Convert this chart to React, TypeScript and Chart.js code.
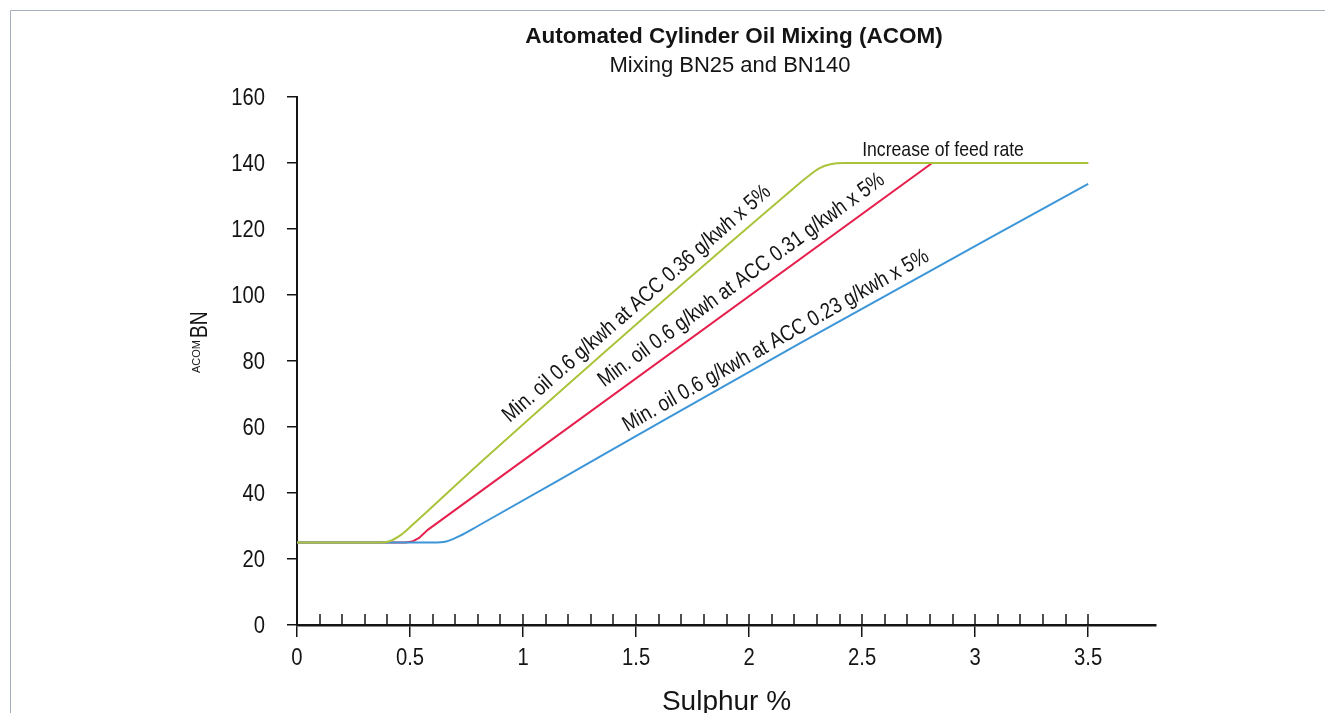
import React, { useEffect, useRef } from "react";
import { Chart, registerables } from "chart.js";

Chart.register(...registerables);

// ---------- text ----------
const chartTitle = "Automated Cylinder Oil Mixing (ACOM)";
const chartSubtitle = "Mixing BN25 and BN140";
const xAxisTitle = "Sulphur %";
const yAxisTitleMain = "BN";
const yAxisTitleSub = "ACOM";
const feedRateText = "Increase of feed rate";

// ---------- axes ----------
const xRange = [0, 3.8];
const yRange = [0, 160];
const xTickValues = [0, 0.5, 1, 1.5, 2, 2.5, 3, 3.5];
const xTickLabels = ["0", "0.5", "1", "1.5", "2", "2.5", "3", "3.5"];
const yTickValues = [0, 20, 40, 60, 80, 100, 120, 140, 160];
const yTickLabels = ["0", "20", "40", "60", "80", "100", "120", "140", "160"];
const xMinorTicks = [
  0, 0.1, 0.2, 0.3, 0.4, 0.5, 0.6, 0.7, 0.8, 0.9, 1.0, 1.1, 1.2, 1.3, 1.4, 1.5, 1.6, 1.7,
  1.8, 1.9, 2.0, 2.1, 2.2, 2.3, 2.4, 2.5, 2.6, 2.7, 2.8, 2.9, 3.0, 3.1, 3.2, 3.3, 3.4, 3.5,
];

// ---------- series ----------
const greenX = [0, 0.36, 0.41, 0.46, 0.51, 0.84, 2.2, 2.26, 2.31, 2.36, 2.42, 3.5];
const greenY = [25, 25, 25.4, 27.3, 30.3, 51, 132.5, 135.9, 138.4, 139.6, 140, 140];
const redX = [0, 0.48, 0.51, 0.54, 0.58, 2.81, 3.5];
const redY = [25, 25, 25.3, 26.4, 28.9, 140, 140];
const blueX = [0, 0.6, 0.66, 0.72, 0.8, 1.34, 2.22, 3.5];
const blueY = [25, 25, 25.3, 27.0, 30.0, 51.0, 85.2, 133.7];

// ---------- annotations ----------
const annotationTexts = [
  "Min. oil 0.6 g/kwh at ACC 0.36 g/kwh x 5%",
  "Min. oil 0.6 g/kwh at ACC 0.31 g/kwh x 5%",
  "Min. oil 0.6 g/kwh at ACC 0.23 g/kwh x 5%",
];
const annotationX = [0.941, 1.359, 1.462];
const annotationY = [61.2, 72.0, 58.5];
const feedRateX = 2.5;
const feedRateY = 142;

const COLORS = { green: "#a9c43b", red: "#e6204d", blue: "#3d96d7", ink: "#141414", frame: "#a4aebb" };
const FAMILY = "'Liberation Sans', Arial, Helvetica, sans-serif";

function zip(xs: number[], ys: number[]) {
  return xs.map((x, i) => ({ x, y: ys[i] }));
}

function interp(xs: number[], ys: number[], x: number) {
  for (let i = 0; i < xs.length - 1; i++) {
    if (x >= xs[i] && x <= xs[i + 1]) {
      const t = (x - xs[i]) / (xs[i + 1] - xs[i]);
      return ys[i] + t * (ys[i + 1] - ys[i]);
    }
  }
  return ys[ys.length - 1];
}

const seriesXs = [greenX, redX, blueX];
const seriesYs = [greenY, redY, blueY];

type TextOpts = { size: number; sx?: number; bold?: boolean; align?: CanvasTextAlign; angle?: number };

function drawText(ctx: CanvasRenderingContext2D, text: string, x: number, y: number, o: TextOpts) {
  ctx.save();
  ctx.translate(x, y);
  if (o.angle) ctx.rotate(o.angle);
  ctx.scale(o.sx ?? 1, 1);
  ctx.font = `${o.bold ? "bold " : ""}${o.size}px ${FAMILY}`;
  ctx.textAlign = o.align ?? "left";
  ctx.textBaseline = "alphabetic";
  ctx.fillStyle = COLORS.ink;
  ctx.fillText(text, 0, 0);
  ctx.restore();
}

const decorPlugin = {
  id: "decor",
  afterDraw(chart: any) {
    const { ctx } = chart;
    const xs = chart.scales.x;
    const ys = chart.scales.y;
    ctx.save();

    // frame
    ctx.strokeStyle = COLORS.frame;
    ctx.lineWidth = 1;
    ctx.beginPath();
    ctx.moveTo(10.5, 800);
    ctx.lineTo(10.5, 10.5);
    ctx.lineTo(1400, 10.5);
    ctx.stroke();

    // upward tick marks above the x axis
    const axisY = ys.getPixelForValue(0);
    ctx.strokeStyle = COLORS.ink;
    ctx.lineWidth = 1.5;
    for (const v of xMinorTicks) {
      const px = Math.round(xs.getPixelForValue(v));
      ctx.beginPath();
      ctx.moveTo(px, axisY);
      ctx.lineTo(px, axisY - 11);
      ctx.stroke();
    }

    // tick labels
    const tickSize = 23;
    const tickSx = 0.88;
    xTickValues.forEach((v, i) => {
      drawText(ctx, xTickLabels[i], xs.getPixelForValue(v), axisY + 40, { size: tickSize, sx: tickSx, align: "center" });
    });
    const yLabelRight = ys.right - 32;
    yTickValues.forEach((v, i) => {
      drawText(ctx, yTickLabels[i], yLabelRight, ys.getPixelForValue(v) + 8, { size: tickSize, sx: tickSx, align: "right" });
    });

    // axis title (x)
    drawText(ctx, xAxisTitle, (xs.left + xs.right) / 2, 710, { size: 28, sx: 1.0, align: "center" });

    // title + subtitle
    drawText(ctx, chartTitle, 734, 43, { size: 22.5, bold: true, align: "center" });
    drawText(ctx, chartSubtitle, 730, 72, { size: 22, align: "center" });

    // y axis title (rotated, subscript first then BN)
    ctx.save();
    ctx.font = `11px ${FAMILY}`;
    const subW = ctx.measureText(yAxisTitleSub).width;
    ctx.restore();
    drawText(ctx, yAxisTitleSub, 200, 373, { size: 11, angle: -Math.PI / 2 });
    drawText(ctx, yAxisTitleMain, 207, 373 - subW - 2, { size: 24, sx: 0.8, angle: -Math.PI / 2 });

    // feed rate label
    drawText(ctx, feedRateText, xs.getPixelForValue(feedRateX), ys.getPixelForValue(feedRateY), { size: 21, sx: 0.84 });

    // rotated line labels
    annotationTexts.forEach((text, i) => {
      const ax = annotationX[i];
      const x0 = xs.getPixelForValue(ax);
      const y0 = ys.getPixelForValue(interp(seriesXs[i], seriesYs[i], ax));
      const x1 = xs.getPixelForValue(ax + 0.5);
      const y1 = ys.getPixelForValue(interp(seriesXs[i], seriesYs[i], ax + 0.5));
      const angle = Math.atan2(y1 - y0, x1 - x0);
      drawText(ctx, text, xs.getPixelForValue(ax), ys.getPixelForValue(annotationY[i]), { size: 22, sx: 0.84, angle });
    });

    ctx.restore();
  },
};

export default function App() {
  const canvasRef = useRef<HTMLCanvasElement | null>(null);

  useEffect(() => {
    const canvas = canvasRef.current;
    if (!canvas) return;
    const chart = new Chart(canvas, {
      type: "line",
      data: {
        datasets: [
          {
            label: "ACC 0.36",
            data: zip(greenX, greenY),
            borderColor: COLORS.green,
            borderWidth: 2,
            pointRadius: 0,
            fill: false,
            cubicInterpolationMode: "monotone",
          },
          {
            label: "ACC 0.23",
            data: zip(blueX, blueY),
            borderColor: COLORS.blue,
            borderWidth: 2,
            pointRadius: 0,
            fill: false,
            cubicInterpolationMode: "monotone",
          },
          {
            label: "ACC 0.31",
            data: zip(redX, redY),
            borderColor: COLORS.red,
            borderWidth: 2,
            pointRadius: 0,
            fill: false,
            tension: 0,
          },
        ],
      },
      options: {
        responsive: false,
        animation: false,
        events: [],
        layout: { padding: { top: 97, right: 169, left: 0, bottom: 0 } },
        plugins: {
          legend: { display: false },
          title: { display: false },
          tooltip: { enabled: false },
        },
        scales: {
          x: {
            type: "linear",
            position: "bottom",
            min: xRange[0],
            max: xRange[1],
            afterFit: (s: any) => {
              s.height = 88;
            },
            ticks: {
              stepSize: 0.5,
              includeBounds: false,
              autoSkip: false,
              maxRotation: 0,
              display: false,
            },
            grid: {
              display: true,
              drawOnChartArea: false,
              drawTicks: true,
              tickLength: 12,
              color: COLORS.ink,
              lineWidth: 1.5,
            },
            border: { display: true, color: COLORS.ink, width: 2.5 },
          },
          y: {
            type: "linear",
            position: "left",
            min: yRange[0],
            max: yRange[1],
            afterFit: (s: any) => {
              s.width = 297;
            },
            ticks: {
              stepSize: 20,
              display: false,
            },
            grid: {
              display: true,
              drawOnChartArea: false,
              drawTicks: true,
              tickLength: 10,
              color: COLORS.ink,
              lineWidth: 1.5,
            },
            border: { display: true, color: COLORS.ink, width: 2 },
          },
        },
      },
      plugins: [decorPlugin],
    });
    return () => chart.destroy();
  }, []);

  return (
    <div style={{ position: "fixed", left: 0, top: 0, width: 1325, height: 713, background: "#fff" }}>
      <canvas ref={canvasRef} width={1325} height={713} style={{ display: "block" }} />
    </div>
  );
}
